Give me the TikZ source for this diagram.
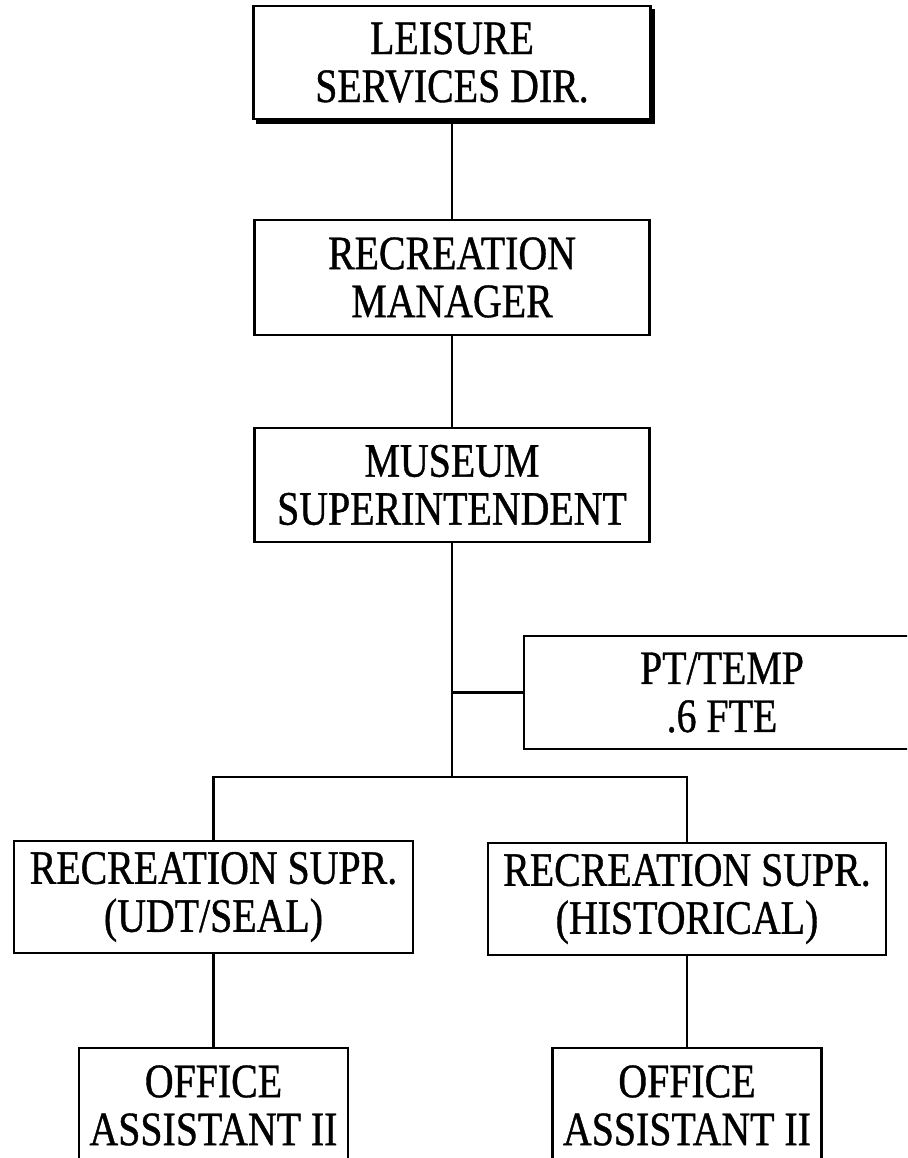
\documentclass[tikz,border=0pt]{standalone}
\usepackage{fontspec}
\newfontfamily\chartfont[FakeStretch=0.83,FakeBold=0.8]{Liberation Serif}
\begin{document}
\begin{tikzpicture}[x=1pt,y=-1pt,
  box/.style={draw=black, line width=2.8pt, fill=white, inner sep=0pt,
    align=center, font=\chartfont\fontsize{48}{48}\selectfont},
  link/.style={draw=black, line width=2.5pt}]
\useasboundingbox (0,0) rectangle (907,1158);
\clip (0,0) rectangle (907,1158);

% top of the chart, with its heavier lower and right edges
\fill[black] (256,9) rectangle (655,124);
\node[box, minimum width=397pt, minimum height=113pt] (dir) at (452,62.5)
  {LEISURE\\SERVICES DIR.};

\node[box, minimum width=395pt, minimum height=115pt] (mgr) at (452,277.5)
  {RECREATION\\MANAGER};

\node[box, minimum width=395pt, minimum height=114pt] (sup) at (452,485)
  {MUSEUM\\SUPERINTENDENT};

\node[box, minimum width=396pt, minimum height=113pt] (pt) at (722,692.5)
  {PT/TEMP\\.6 FTE};

\node[box, minimum width=399pt, minimum height=112pt] (rsl) at (213.5,897)
  {RECREATION SUPR.\\(UDT/SEAL)};
\node[box, minimum width=398pt, minimum height=112pt] (rsr) at (687,899)
  {RECREATION SUPR.\\(HISTORICAL)};

\node[box, minimum width=269pt, minimum height=115pt] (oal) at (213.5,1105.5)
  {OFFICE\\ASSISTANT II};
\node[box, minimum width=269pt, minimum height=115pt] (oar) at (687,1105.5)
  {OFFICE\\ASSISTANT II};

% reporting lines
\coordinate (hub) at (452,777);
\path[link] (dir.south) -- (mgr.north);
\path[link] (mgr.south) -- (sup.north);
\path[link] (sup.south) -- (hub);
\path[link] (sup.south |- pt.west) -- (pt.west);
\path[link] (rsl.north) |- (hub) -| (rsr.north);
\path[link] (rsl.south) -- (oal.north);
\path[link] (rsr.south) -- (oar.north);
\end{tikzpicture}
\end{document}
